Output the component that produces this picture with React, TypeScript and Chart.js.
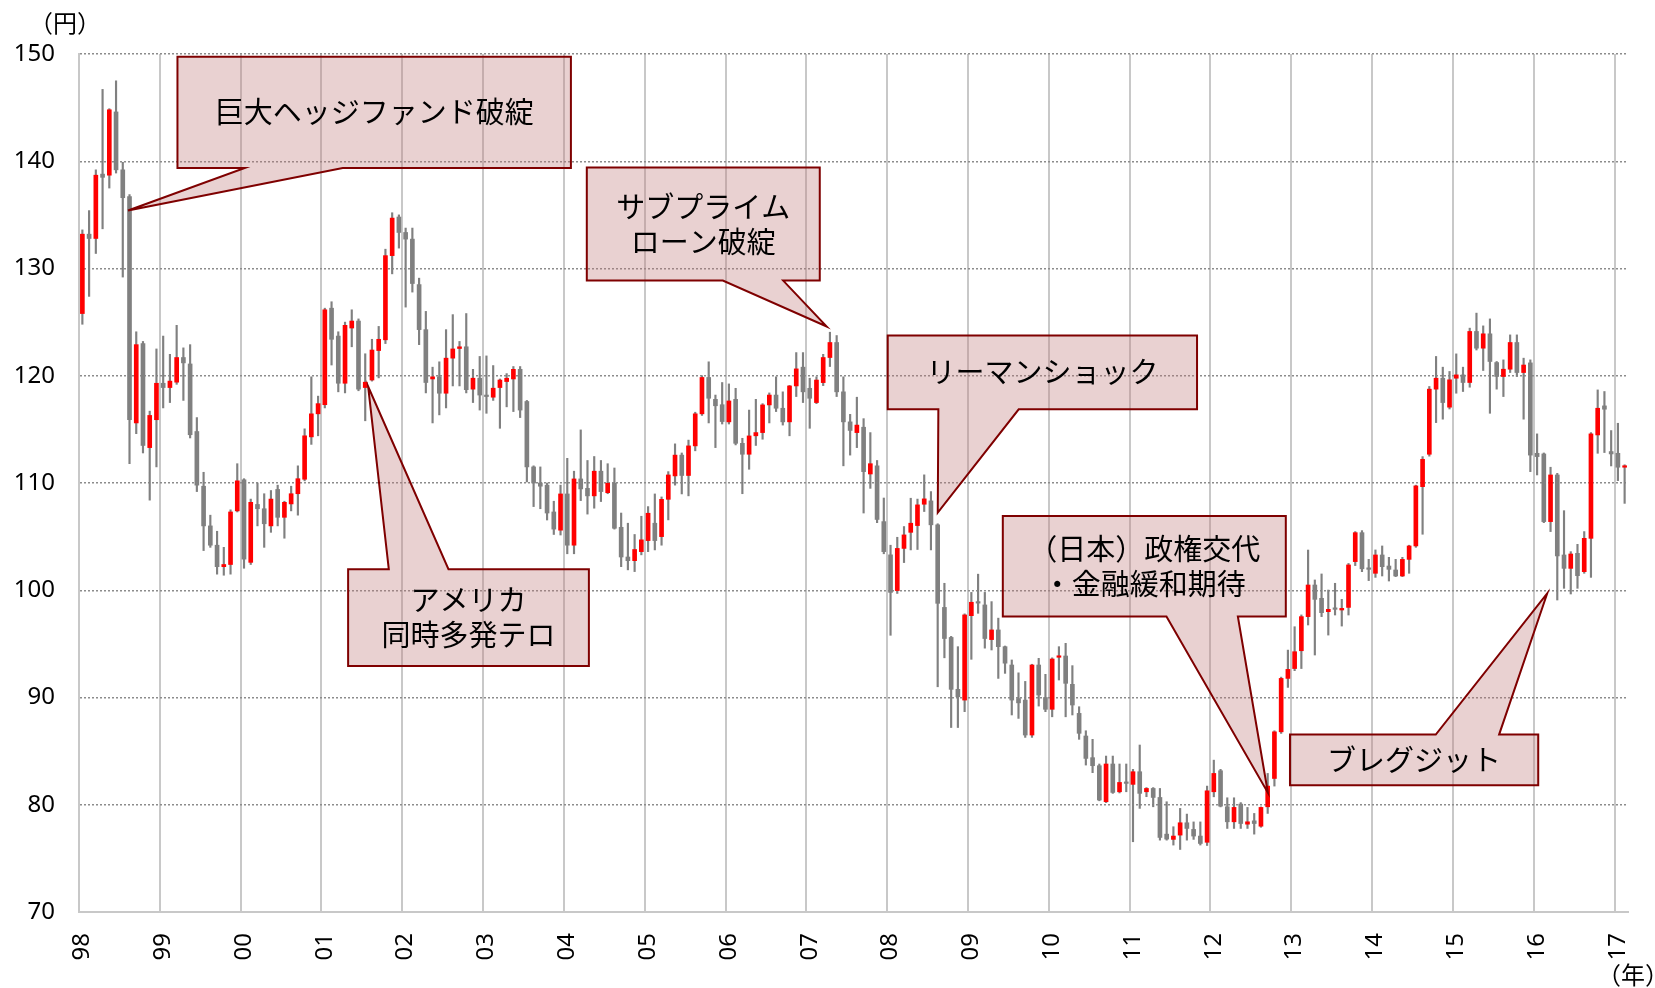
import React, { useEffect, useRef } from 'react';
import { Chart, registerables } from 'chart.js';

Chart.register(...registerables);

const yearLabels = ['98','99','00','01','02','03','04','05','06','07','08','09','10','11','12','13','14','15','16','17'];

const opens = [
  125.8, 133.2, 132.8, 138.8, 138.7, 144.6, 139.2, 136.7, 115.6, 123.0, 113.3, 115.9,
  119.3, 118.9, 119.4, 121.7, 121.1, 114.8, 109.7, 106.0, 104.2, 102.2, 102.4, 107.4,
  110.3, 102.6, 108.0, 107.6, 106.0, 109.4, 106.8, 108.05, 109.0, 110.35, 114.3, 116.45,
  117.3, 126.3, 123.7, 119.3, 124.45, 125.1, 118.9, 119.6, 122.35, 123.35, 131.2, 134.8,
  133.36, 132.74, 128.5, 124.3, 119.7, 119.9, 118.37, 121.64, 122.54, 122.7, 118.75, 119.77,
  118.2, 118.0, 118.9, 119.46, 119.7, 120.6, 117.6, 111.5, 110.0, 109.8, 107.3, 105.6,
  108.98, 104.2, 110.38, 109.5, 108.8, 111.1, 109.1, 109.98, 105.87, 103.1, 102.76, 103.6,
  104.63, 106.25, 105.0, 108.48, 110.66, 112.6, 110.7, 113.46, 116.45, 119.84, 117.8, 117.3,
  115.7, 117.8, 113.7, 112.68, 114.4, 114.7, 117.28, 118.2, 116.97, 115.7, 119.05, 120.8,
  118.83, 117.5, 119.36, 121.7, 123.1, 118.5, 115.7, 114.7, 115.2, 110.84, 111.6, 106.4,
  103.3, 99.97, 103.9, 105.4, 106.03, 108.02, 108.33, 106.1, 98.4, 95.6, 90.76, 89.76,
  97.63, 98.88, 98.63, 95.4, 96.3, 94.74, 93.03, 89.9, 89.76, 86.5, 93.03, 90.0,
  88.9, 93.75, 93.87, 91.23, 88.52, 86.41, 84.39, 83.64, 80.28, 83.8, 81.21, 82.08,
  81.9, 83.08, 81.21, 81.52, 80.68, 77.26, 76.77, 77.17, 78.32, 77.7, 77.08, 76.5,
  81.21, 83.17, 79.81, 78.41, 80.06, 78.19, 78.5, 78.0, 79.81, 82.45, 86.8, 91.78,
  92.7, 94.36, 97.54, 100.49, 99.25, 98.0, 98.31, 98.16, 98.4, 102.67, 105.37, 102.0,
  101.58, 103.29, 102.26, 101.89, 101.33, 102.88, 104.13, 109.66, 112.68, 118.75, 119.77, 117.07,
  119.77, 120.08, 119.37, 124.13, 122.57, 123.91, 121.23, 119.93, 120.61, 123.1, 120.3, 121.2,
  112.77, 112.71, 106.4, 110.75, 103.29, 102.04, 103.44, 101.73, 104.84, 114.48, 117.19, 112.93,
  112.77, 111.47,
];

const highs = [
  133.6, 135.4, 139.2, 146.7, 144.9, 147.5, 139.9, 136.9, 124.1, 123.2, 116.7, 122.5,
  123.7, 122.0, 124.7, 122.6, 122.9, 116.1, 111.0, 107.0, 105.5, 104.0, 107.5, 111.8,
  110.4, 108.5, 110.0, 109.0, 109.3, 109.8, 108.3, 109.7, 111.6, 115.05, 119.9, 118.1,
  126.3, 126.9, 124.1, 125.0, 126.15, 125.3, 122.05, 123.4, 124.6, 131.8, 135.2, 135.0,
  133.77, 133.77, 129.1, 126.0, 120.8, 121.3, 124.3, 125.7, 123.2, 125.8, 120.6, 121.8,
  121.85, 120.95, 119.7, 120.2, 120.86, 120.86, 117.7, 111.6, 111.5, 110.0, 108.3, 109.8,
  112.3, 111.1, 114.95, 112.1, 112.47, 112.1, 111.8, 111.4, 107.2, 106.25, 105.2, 106.9,
  107.8, 108.98, 108.7, 111.06, 113.65, 112.8, 114.0, 116.6, 120.0, 121.3, 118.2, 119.37,
  119.24, 118.83, 114.17, 116.8, 117.8, 117.4, 118.4, 119.9, 118.5, 119.1, 122.16, 122.16,
  119.77, 119.9, 122.0, 124.06, 123.75, 119.9, 116.4, 118.0, 116.0, 114.7, 112.1, 108.6,
  104.2, 104.94, 105.94, 108.58, 108.5, 110.76, 109.2, 106.2, 100.65, 95.7, 94.74, 97.8,
  99.8, 101.5, 99.8, 98.94, 97.4, 94.8, 93.5, 92.3, 91.5, 93.1, 93.65, 92.16,
  93.7, 94.74, 95.05, 92.97, 89.14, 86.9, 86.1, 83.8, 84.54, 84.54, 83.8, 83.8,
  83.3, 85.57, 81.6, 81.6, 81.52, 80.28, 77.95, 79.66, 79.13, 78.4, 78.4, 81.74,
  84.16, 83.3, 80.65, 80.65, 80.2, 79.75, 79.19, 79.8, 82.92, 86.9, 91.9, 94.42,
  96.6, 97.7, 103.75, 100.96, 101.52, 100.02, 100.65, 99.15, 102.5, 105.47, 105.56, 102.88,
  103.76, 104.13, 103.07, 102.88, 103.07, 104.2, 109.8, 112.46, 119.0, 121.8, 120.8, 120.4,
  122.04, 120.8, 124.44, 125.84, 124.65, 125.3, 121.33, 121.48, 123.81, 123.81, 121.64, 121.48,
  114.58, 112.8, 111.47, 110.9, 107.42, 103.6, 104.28, 105.47, 114.7, 118.68, 118.53, 114.89,
  115.57, 111.7,
];

const lows = [
  124.8, 127.4, 131.4, 133.7, 137.5, 138.9, 129.2, 111.8, 114.6, 112.8, 108.4, 111.5,
  117.0, 117.5, 119.2, 117.7, 114.2, 109.2, 103.7, 104.0, 101.5, 101.4, 101.5, 107.3,
  102.05, 102.4, 106.0, 104.0, 105.4, 106.0, 104.85, 107.4, 107.0, 110.2, 113.6, 114.4,
  117.0, 121.0, 118.5, 118.4, 122.7, 118.6, 115.8, 119.5, 119.8, 123.0, 129.5, 131.9,
  126.4, 127.8, 122.9, 118.4, 115.6, 116.35, 117.0, 119.05, 119.05, 118.4, 117.5, 116.8,
  116.5, 117.7, 115.1, 117.1, 116.66, 116.1, 110.1, 107.8, 107.6, 106.55, 105.2, 105.15,
  103.4, 103.4, 108.36, 107.1, 107.65, 108.27, 109.0, 105.7, 102.2, 101.9, 101.74, 103.3,
  103.6, 103.76, 104.2, 106.56, 109.8, 108.98, 108.8, 113.0, 116.3, 115.6, 113.3, 115.5,
  115.5, 113.55, 109.0, 111.28, 113.5, 114.08, 115.6, 116.66, 115.4, 114.4, 118.06, 117.5,
  115.1, 117.4, 119.08, 120.86, 118.06, 111.6, 112.6, 113.3, 107.2, 109.5, 106.3, 103.4,
  95.8, 99.7, 102.58, 103.76, 103.8, 107.34, 103.76, 91.0, 93.7, 87.2, 87.2, 88.68,
  93.56, 97.85, 94.6, 94.43, 91.78, 92.25, 88.37, 88.05, 86.28, 86.28, 89.2, 88.68,
  88.2, 91.63, 88.2, 88.37, 86.1, 83.7, 82.99, 80.37, 80.2, 81.06, 81.1, 81.21,
  76.55, 79.66, 80.75, 79.81, 76.7, 76.7, 76.24, 75.83, 76.7, 76.77, 76.24, 76.2,
  80.74, 79.8, 77.79, 77.79, 77.79, 77.79, 77.26, 77.9, 79.19, 81.74, 86.65, 90.94,
  92.5, 92.7, 96.76, 93.96, 97.54, 95.82, 97.69, 96.66, 97.69, 102.3, 101.73, 100.9,
  101.2, 101.33, 100.86, 101.27, 101.27, 101.58, 104.0, 105.22, 112.5, 115.63, 115.95, 116.9,
  118.37, 118.53, 118.93, 122.4, 120.49, 116.5, 118.75, 118.06, 120.3, 119.93, 115.95, 111.06,
  110.75, 106.3, 105.47, 99.09, 100.18, 99.65, 100.18, 101.58, 101.2, 112.77, 112.84, 111.59,
  110.22, 108.1,
];

const closes = [
  133.2, 132.8, 138.7, 138.5, 144.8, 139.2, 136.6, 115.9, 122.9, 113.5, 116.3, 119.3,
  118.9, 119.5, 121.7, 121.2, 114.5, 109.8, 106.0, 104.2, 102.2, 102.4, 107.3, 110.2,
  102.9, 108.2, 107.6, 106.2, 108.5, 106.8, 108.2, 109.0, 110.4, 114.4, 116.45, 117.4,
  126.15, 123.4, 119.3, 124.7, 125.1, 118.75, 119.4, 122.4, 123.4, 131.2, 134.7, 133.36,
  132.74, 128.6, 124.3, 119.37, 119.9, 118.37, 121.64, 122.5, 122.7, 118.7, 119.77, 118.2,
  118.06, 118.84, 119.6, 119.77, 120.6, 116.8, 111.5, 110.0, 109.7, 107.2, 105.7, 108.98,
  104.2, 110.38, 109.45, 108.8, 111.1, 109.2, 109.98, 105.78, 103.1, 102.76, 103.8, 104.7,
  107.18, 104.63, 108.48, 110.75, 112.6, 110.7, 113.46, 116.45, 119.84, 117.9, 117.2, 115.73,
  117.65, 113.7, 112.68, 114.39, 114.7, 117.28, 118.2, 116.97, 115.7, 119.05, 120.64, 118.5,
  117.9, 119.6, 121.7, 123.1, 118.5, 115.7, 114.9, 115.4, 111.06, 111.8, 106.6, 103.6,
  99.8, 103.9, 105.16, 106.25, 107.96, 108.52, 106.1, 98.78, 95.5, 90.76, 90.07, 97.7,
  98.88, 98.8, 95.5, 96.3, 94.74, 93.2, 89.76, 89.5, 86.5, 93.03, 90.23, 88.9,
  93.59, 93.87, 91.32, 89.3, 86.66, 84.32, 83.64, 80.44, 83.8, 81.15, 82.08, 81.99,
  83.08, 81.06, 81.52, 80.68, 76.95, 76.8, 77.08, 78.32, 77.79, 77.08, 76.39, 81.3,
  82.92, 79.87, 78.41, 79.75, 78.25, 78.41, 78.25, 79.75, 81.74, 86.8, 91.78, 92.62,
  94.27, 97.54, 100.49, 99.15, 97.91, 98.22, 98.22, 98.31, 102.36, 105.37, 102.0, 101.95,
  103.29, 102.2, 101.95, 101.33, 102.88, 104.13, 109.73, 112.21, 118.75, 119.77, 117.5, 119.62,
  120.08, 119.37, 124.13, 122.57, 123.91, 121.33, 119.93, 120.61, 123.1, 120.3, 121.0, 112.6,
  112.46, 106.4, 110.75, 103.2, 102.04, 103.38, 101.36, 104.84, 114.58, 116.97, 116.88, 112.71,
  111.47, 111.59,
];

// Callout annotations: box edges and pointer in data space (months from Jan-98, yen)
type Callout = {
  lines: string[];
  left: number; right: number; top: number; bottom: number;
  edge: 'top' | 'bottom';
  base: [number, number];
  tip: [number, number];
};

const callouts: Callout[] = [
  { lines: ['巨大ヘッジファンド破綻'], left: 14.62, right: 73.04, top: 149.75, bottom: 139.37, edge: 'bottom', base: [24.61, 39.16], tip: [7.28, 135.41] },
  { lines: ['アメリカ', '同時多発テロ'], left: 39.96, right: 75.71, top: 101.96, bottom: 92.94, edge: 'top', base: [46.0, 54.86], tip: [42.93, 119.0] },
  { lines: ['サブプライム', 'ローン破綻'], left: 75.4, right: 109.99, top: 139.41, bottom: 128.87, edge: 'bottom', base: [95.6, 104.56], tip: [111.02, 124.59] },
  { lines: ['リーマンショック'], left: 120.08, right: 166.01, top: 123.76, bottom: 116.87, edge: 'bottom', base: [127.6, 139.53], tip: [127.51, 107.24] },
  { lines: ['（日本）政権交代', '・金融緩和期待'], left: 137.17, right: 179.19, top: 106.92, bottom: 97.56, edge: 'bottom', base: [161.47, 172.07], tip: [176.53, 81.12] },
  { lines: ['ブレグジット'], left: 179.81, right: 216.67, top: 86.54, bottom: 81.81, edge: 'top', base: [201.46, 210.86], tip: [218.0, 99.7] },
];

const months = opens.map((_, i) => `${yearLabels[Math.floor(i / 12)]}/${(i % 12) + 1}`);

const CJK = '"Noto Sans CJK JP", "Noto Sans", sans-serif';

const calloutPlugin = {
  id: 'callouts',
  afterDatasetsDraw(chart: any) {
    const { ctx, scales } = chart;
    const xs = scales.x;
    const ys = scales.y;
    const n = opens.length;
    const px = (m: number) => xs.getPixelForDecimal(m / n);
    const py = (p: number) => ys.getPixelForValue(p);
    ctx.save();
    for (const c of callouts) {
      const l = px(c.left), r = px(c.right), t = py(c.top), b = py(c.bottom);
      const b1 = px(c.base[0]), b2 = px(c.base[1]);
      const tx = px(c.tip[0]), ty = py(c.tip[1]);
      ctx.beginPath();
      if (c.edge === 'bottom') {
        ctx.moveTo(l, t); ctx.lineTo(r, t); ctx.lineTo(r, b); ctx.lineTo(b2, b);
        ctx.lineTo(tx, ty); ctx.lineTo(b1, b); ctx.lineTo(l, b); ctx.closePath();
      } else {
        ctx.moveTo(l, t); ctx.lineTo(b1, t); ctx.lineTo(tx, ty); ctx.lineTo(b2, t);
        ctx.lineTo(r, t); ctx.lineTo(r, b); ctx.lineTo(l, b); ctx.closePath();
      }
      ctx.fillStyle = 'rgba(190,120,120,0.34)';
      ctx.fill();
      ctx.lineWidth = 2;
      ctx.strokeStyle = '#7f0000';
      ctx.lineJoin = 'miter';
      ctx.stroke();
      ctx.fillStyle = '#000';
      ctx.font = `29px ${CJK}`;
      ctx.textAlign = 'center';
      ctx.textBaseline = 'middle';
      const cx = (l + r) / 2;
      const cy = (t + b) / 2;
      const lh = 35;
      c.lines.forEach((s, k) => ctx.fillText(s, cx, cy + (k - (c.lines.length - 1) / 2) * lh));
    }
    ctx.font = `24px ${CJK}`;
    ctx.textAlign = 'center';
    ctx.textBaseline = 'middle';
    ctx.fillStyle = '#000';
    ctx.fillText('（円）', 65, 23);
    ctx.fillText('（年）', 1633, 975);
    ctx.restore();
  },
};

export default function App() {
  const ref = useRef<HTMLCanvasElement | null>(null);
  useEffect(() => {
    if (!ref.current) return;
    const bodies = opens.map((o, i) => [Math.min(o, closes[i]), Math.max(o, closes[i])]);
    const bodyColors = opens.map((o, i) => (closes[i] >= o ? '#ff0000' : '#808080'));
    const wicks = lows.map((l, i) => [l, highs[i]]);
    const chart = new Chart(ref.current, {
      type: 'bar',
      data: {
        labels: months,
        datasets: [
          { label: 'body', data: bodies as any, backgroundColor: bodyColors, barThickness: 4, grouped: false, order: 0, minBarLength: 1.5 } as any,
          { label: 'wick', data: wicks as any, backgroundColor: '#808080', barThickness: 1.5, grouped: false, order: 1 } as any,
        ],
      },
      options: {
        responsive: false,
        animation: false,
        layout: { padding: { top: 54, right: 27, left: 0, bottom: 0 } },
        plugins: { legend: { display: false }, tooltip: { enabled: false } },
        scales: {
          x: {
            type: 'category',
            offset: true,
            afterFit: (s: any) => { s.height = 76; s.paddingLeft = 0; s.paddingRight = 0; },
            grid: {
              offset: true,
              drawTicks: false,
              lineWidth: 2,
              color: (c: any) => (typeof c.index === 'number' && c.index % 12 === 0 ? '#c8c8c8' : 'rgba(0,0,0,0)'),
            },
            border: { display: true, color: '#c8c8c8', width: 2 },
            ticks: {
              autoSkip: false,
              minRotation: 90,
              maxRotation: 90,
              padding: 21,
              color: '#000',
              font: { size: 24, family: '"Noto Sans", sans-serif' },
              callback: (_v: any, i: number) => (i % 12 === 0 ? yearLabels[i / 12] : ''),
            },
          },
          y: {
            type: 'linear',
            min: 70,
            max: 150,
            afterFit: (s: any) => { s.width = 79; s.paddingTop = 0; s.paddingBottom = 0; },
            grid: {
              drawTicks: false,
              lineWidth: 1.5,
              color: (c: any) => (c.tick && c.tick.value === 70 ? 'rgba(0,0,0,0)' : '#8c8c8c'),
            },
            border: { display: true, color: '#c8c8c8', width: 2, dash: [2, 2] },
            ticks: {
              stepSize: 10,
              padding: 24,
              color: '#000',
              font: { size: 24, family: '"Noto Sans", sans-serif' },
            },
          },
        },
      } as any,
      plugins: [calloutPlugin],
    });
    return () => chart.destroy();
  }, []);
  return (
    <div style={{ position: 'fixed', left: 0, top: 0, width: 1655, height: 988, background: '#fff' }}>
      <canvas ref={ref} width={1655} height={988} style={{ display: 'block' }} />
    </div>
  );
}
